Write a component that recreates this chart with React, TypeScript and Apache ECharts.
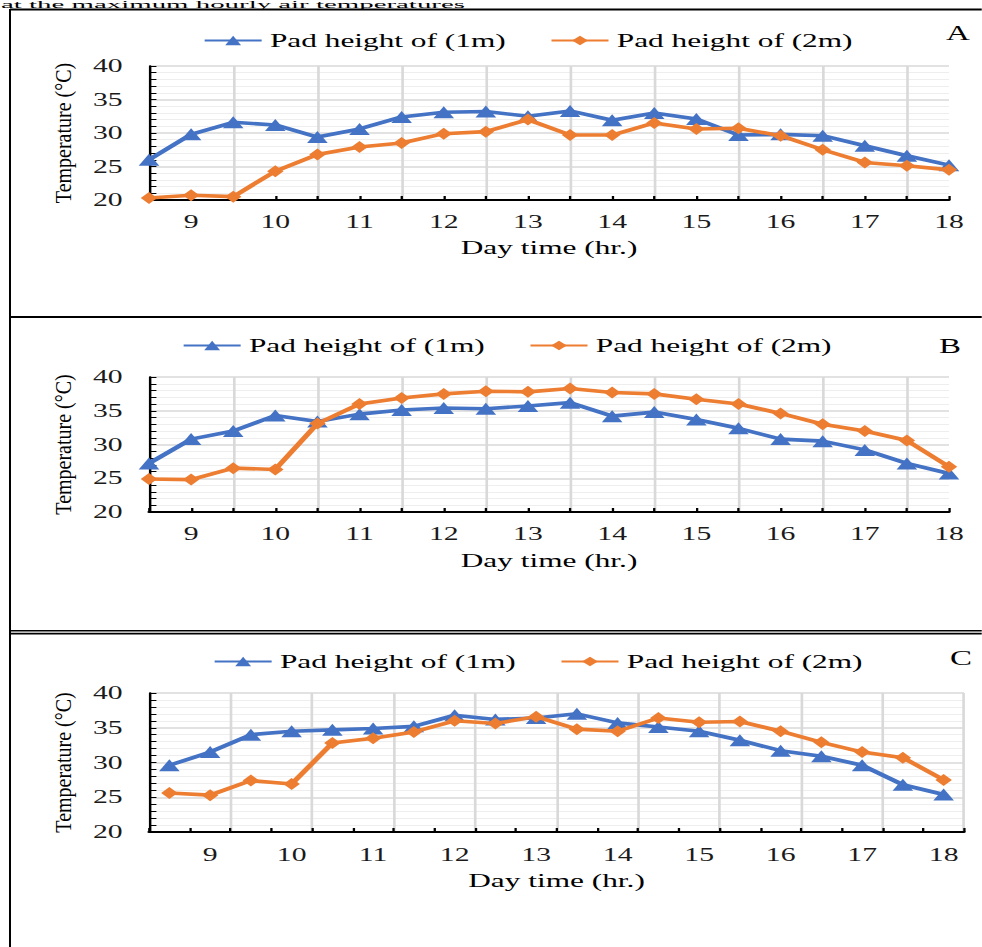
import React, { useEffect, useRef } from "react";
import * as echarts from "echarts";

// ---- data ----
const hours = ["8.5", "9", "9.5", "10", "10.5", "11", "11.5", "12", "12.5", "13", "13.5", "14", "14.5", "15", "15.5", "16", "16.5", "17", "17.5", "18"];
const seriesNames = ["Pad height of (1m)", "Pad height of (2m)"];
const panelLetters = ["A", "B", "C"];
const aPad1 = [26.0, 29.8, 31.6, 31.2, 29.4, 30.6, 32.4, 33.1, 33.2, 32.5, 33.3, 31.9, 33.0, 32.1, 29.7, 29.8, 29.6, 28.1, 26.6, 25.2];
const aPad2 = [20.3, 20.7, 20.5, 24.3, 26.8, 27.9, 28.5, 29.9, 30.2, 32.0, 29.7, 29.7, 31.5, 30.6, 30.7, 29.6, 27.5, 25.6, 25.1, 24.5];
const bPad1 = [27.2, 30.8, 32.0, 34.3, 33.4, 34.5, 35.1, 35.4, 35.3, 35.7, 36.2, 34.2, 34.8, 33.7, 32.4, 30.8, 30.5, 29.2, 27.2, 25.7];
const bPad2 = [24.9, 24.8, 26.5, 26.3, 33.1, 36.0, 36.9, 37.5, 37.9, 37.8, 38.3, 37.7, 37.5, 36.7, 36.0, 34.6, 33.0, 32.0, 30.6, 26.7];
const cPad1 = [29.6, 31.5, 34.0, 34.5, 34.7, 34.9, 35.2, 36.8, 36.2, 36.4, 37.0, 35.7, 35.1, 34.5, 33.2, 31.7, 30.9, 29.6, 26.8, 25.4];
const cPad2 = [25.6, 25.3, 27.4, 26.9, 32.8, 33.5, 34.4, 36.0, 35.6, 36.6, 34.8, 34.5, 36.4, 35.8, 35.9, 34.5, 32.9, 31.5, 30.7, 27.5];
const yMin = 20;
const yMax = 40;
const yStep = 5;

// horizontal stretch of the original figure
const S = 1.65;
const W = 982 / S;
const sx = (px: number) => px / S;

const BLUE = "#4472C4";
const ORANGE = "#ED7D31";
const SERIF = '"Liberation Serif", "Times New Roman", serif';

type Panel = {
  left: number; width: number; top: number; height: number;
  boundaryGap: boolean; labelMargin: number; nameGap: number;
  legendLeft: number; legendTop: number; letterX: number; letterY: number;
  d1: number[]; d2: number[];
};

const panels: Panel[] = [
  { left: 149, width: 800, top: 66, height: 134, boundaryGap: false, labelMargin: 13, nameGap: 38, legendLeft: 203, legendTop: 31, letterX: 958, letterY: 33, d1: aPad1, d2: aPad2 },
  { left: 149, width: 800, top: 377, height: 135, boundaryGap: false, labelMargin: 13, nameGap: 39, legendLeft: 182, legendTop: 336, letterX: 950, letterY: 346, d1: bPad1, d2: bPad2 },
  { left: 149, width: 815, top: 693, height: 139, boundaryGap: true, labelMargin: 14, nameGap: 39, legendLeft: 213, legendTop: 652, letterX: 961, letterY: 658, d1: cPad1, d2: cPad2 },
];

function buildOption() {
  const grid: any[] = [];
  const xAxis: any[] = [];
  const yAxis: any[] = [];
  const series: any[] = [];
  const legend: any[] = [];
  const graphic: any[] = [];

  panels.forEach((p, i) => {
    grid.push({ left: sx(p.left), top: p.top, width: sx(p.width), height: p.height, containLabel: false });
    const last = hours.length - 1;
    xAxis.push({
      type: "category",
      gridIndex: i,
      data: hours,
      boundaryGap: p.boundaryGap,
      axisLine: { show: true, lineStyle: { color: "#000", width: 2 } },
      axisTick: { show: true, inside: true, length: 4, interval: 0, lineStyle: { color: "#000", width: 1.4 } },
      axisLabel: {
        interval: (idx: number) => idx % 2 === 1,
        margin: p.labelMargin,
        fontFamily: SERIF,
        fontSize: 18,
        color: "#1a1a1a",
      },
      splitLine: {
        show: true,
        interval: (idx: number) => idx % 2 === 0 && idx !== 0 && idx !== last + 1 && (p.boundaryGap || idx !== last),
        lineStyle: { color: "#d9d9d9", width: 1.6 },
      },
      name: "Day time (hr.)",
      nameLocation: "middle",
      nameGap: p.nameGap,
      nameTextStyle: { fontFamily: SERIF, fontSize: 19, color: "#000" },
    });
    yAxis.push({
      type: "value",
      gridIndex: i,
      min: yMin,
      max: yMax,
      interval: yStep,
      axisLine: { show: true, lineStyle: { color: "#000", width: 1.5 } },
      axisTick: { show: true, inside: true, length: 4.5, lineStyle: { color: "#000", width: 1 } },
      minorTick: { show: true, splitNumber: 5, length: 4.5, lineStyle: { color: "#000", width: 1 } },
      splitLine: { show: true, lineStyle: { color: "#d9d9d9", width: 1.5 } },
      minorSplitLine: { show: true, lineStyle: { color: "#eeeeee", width: 1 } },
      axisLabel: { margin: 16, fontFamily: SERIF, fontSize: 18, color: "#1a1a1a" },
    });
    series.push({
      name: seriesNames[0],
      type: "line",
      xAxisIndex: i,
      yAxisIndex: i,
      data: p.d1,
      symbol: "triangle",
      symbolSize: [12.5, 12],
      lineStyle: { color: BLUE, width: 3.6 },
      itemStyle: { color: BLUE },
      z: 3,
    });
    series.push({
      name: seriesNames[1],
      type: "line",
      xAxisIndex: i,
      yAxisIndex: i,
      data: p.d2,
      symbol: "diamond",
      symbolSize: [10, 12],
      lineStyle: { color: ORANGE, width: 3.6 },
      itemStyle: { color: ORANGE },
      z: 4,
    });
    legend.push({
      left: sx(p.legendLeft),
      top: p.legendTop,
      padding: 0,
      itemWidth: sx(57),
      itemHeight: 12,
      itemGap: sx(44),
      textStyle: { fontFamily: SERIF, fontSize: 19, color: "#000" },
      data: seriesNames,
    });
    graphic.push({
      type: "text",
      x: sx(p.letterX),
      y: p.letterY,
      style: { text: panelLetters[i], font: `20px ${SERIF}`, fill: "#000", textAlign: "center", textVerticalAlign: "middle", align: "center", verticalAlign: "middle" },
    });
    graphic.push({
      type: "text",
      x: sx(63),
      y: p.top + p.height / 2,
      rotation: Math.PI / 2,
      scaleY: 1.2 / S,
      style: { text: "Temperature (°C)", font: `20px ${SERIF}`, fill: "#000", textAlign: "center", textVerticalAlign: "middle", align: "center", verticalAlign: "middle" },
    });
  });

  // panel frames
  const frame = { stroke: "#000" };
  graphic.push({ type: "line", shape: { x1: sx(10), y1: 9.5, x2: W + 2, y2: 9.5 }, style: { ...frame, lineWidth: 2 } });
  graphic.push({ type: "line", shape: { x1: sx(10), y1: 9, x2: sx(10), y2: 950 }, style: { ...frame, lineWidth: 2 / S } });
  graphic.push({ type: "line", shape: { x1: sx(10), y1: 317, x2: W + 2, y2: 317 }, style: { ...frame, lineWidth: 2.2 } });
  graphic.push({ type: "line", shape: { x1: sx(10), y1: 630.8, x2: W + 2, y2: 630.8 }, style: { ...frame, lineWidth: 1.6 } });
  graphic.push({ type: "line", shape: { x1: sx(10), y1: 633.6, x2: W + 2, y2: 633.6 }, style: { ...frame, lineWidth: 1.6 } });
  // caption text line above the figure frame
  graphic.push({
    type: "text",
    x: sx(1),
    y: 4.6,
    scaleX: 1.75,
    style: { text: "at the maximum hourly air temperatures", font: `10px ${SERIF}`, fill: "#000", textAlign: "left", textVerticalAlign: "middle", align: "left", verticalAlign: "middle" },
  });

  return {
    animation: false,
    backgroundColor: "#fff",
    grid,
    xAxis,
    yAxis,
    legend,
    series,
    graphic,
  };
}

export default function App() {
  const ref = useRef<HTMLDivElement>(null);
  useEffect(() => {
    if (!ref.current) return;
    const chart = echarts.init(ref.current, undefined, { renderer: "svg" });
    chart.setOption(buildOption() as any);
    return () => chart.dispose();
  }, []);
  return (
    <div
      ref={ref}
      style={{
        position: "fixed",
        left: 0,
        top: 0,
        width: W,
        height: 947,
        transform: `scaleX(${S})`,
        transformOrigin: "0 0",
        background: "#fff",
      }}
    />
  );
}
